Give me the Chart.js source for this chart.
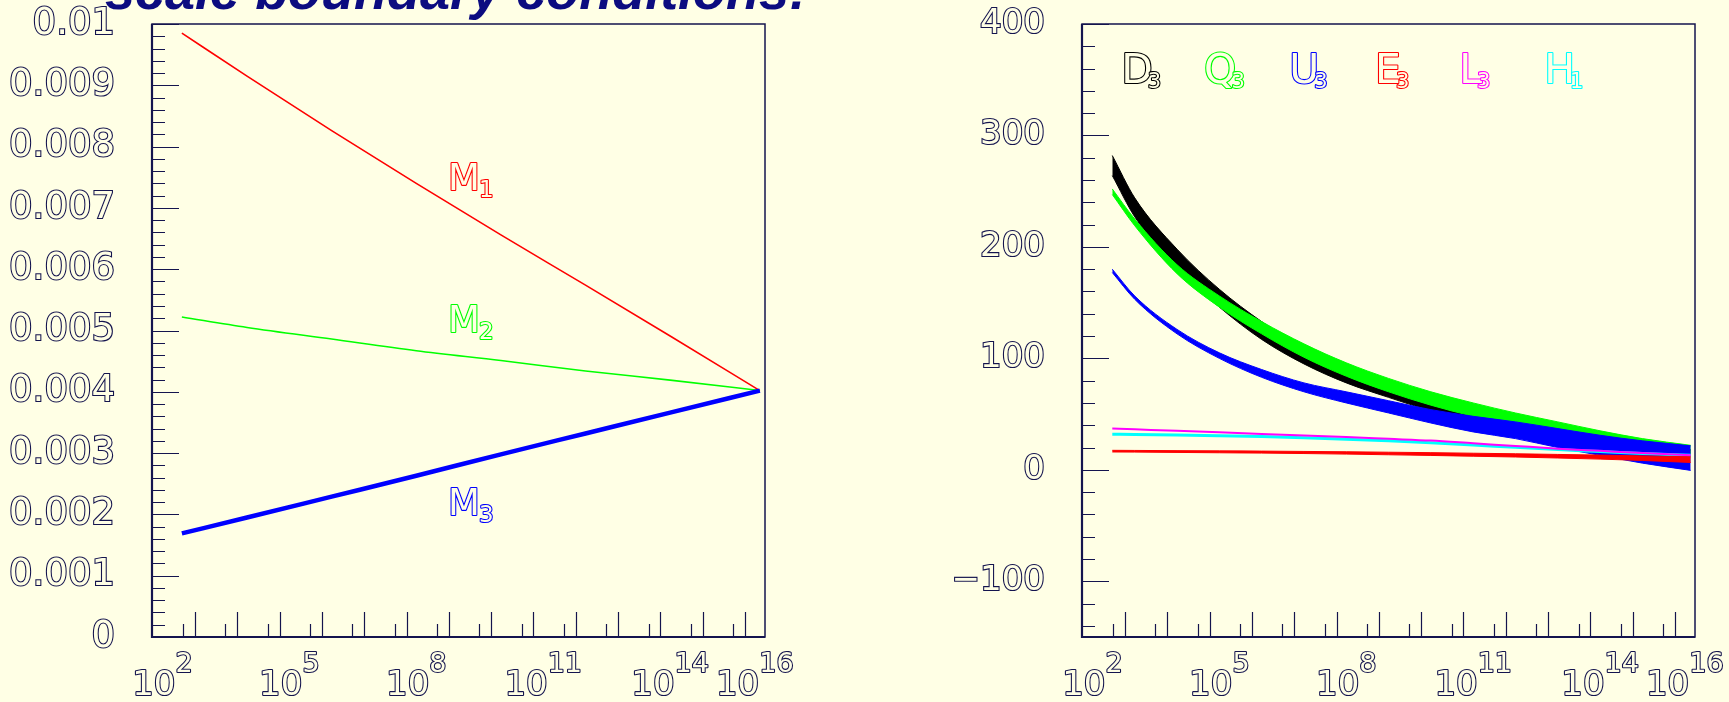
<!DOCTYPE html>
<html>
<head>
<meta charset="utf-8">
<script src="https://cdn.jsdelivr.net/npm/chart.js@4.4.0/dist/chart.umd.min.js"></script>
<style>
    html, body { margin: 0; padding: 0; background: #ffffe5; overflow: hidden; }
    .panel { position: absolute; top: 0; }
</style>
</head>
<body>
<div class="panel" style="left:0"><canvas id="leftChart" width="880" height="702"></canvas></div>
<div class="panel" style="left:880px"><canvas id="rightChart" width="849" height="702"></canvas></div>
<script>
// ---- data (x = log10 of the scale in GeV) ----
const xLeft = [2.46, 4, 6, 8, 10, 12, 14, 16.12];
const m1 = [0.00985, 0.00915, 0.00826, 0.00740, 0.00656, 0.00574, 0.00491, 0.00402];
const m2 = [0.00522, 0.00505, 0.00486, 0.00467, 0.00451, 0.00434, 0.00419, 0.00402];
const m3 = [0.00169, 0.00195, 0.00229, 0.00263, 0.00298, 0.00332, 0.00366, 0.00402];

const xRight = [2.47, 3, 4, 5, 6, 7, 8, 9, 10, 11, 12, 13, 14, 15, 16.14];
const d3Top = [282, 244, 198, 162, 133, 109, 91, 77, 64, 54, 45, 37, 30, 24, 18];
const d3Bot = [264, 227, 181, 146, 117, 95, 78, 65, 53, 44, 36, 29, 23, 18, 13];
const q3Top = [252, 225, 184, 156, 133, 113, 96, 82, 70, 60, 51, 43, 35, 28, 22];
const q3Bot = [247, 219, 176, 146, 122, 101, 84, 70, 58, 48, 40, 33, 26, 20, 15];
const u3Top = [180, 156, 126, 105, 90, 78, 70, 62, 54, 48, 43, 37, 31, 26, 21.5];
const u3Bot = [177, 153, 122, 100, 83, 70, 60, 51, 42, 34, 28, 20, 13, 6, -0.5];
const l3 = [37, 36.3, 35, 33.6, 32.2, 30.8, 29.4, 27.8, 26.2, 23.8, 21.4, 19, 17, 15, 13];
const h1 = [32, 31.8, 31.3, 30.6, 29.8, 28.8, 27.5, 26, 24.2, 22.2, 20.2, 18.2, 16.4, 14.6, 13];
const e3Top = [17.5, 17.4, 17.2, 17.0, 16.8, 16.5, 16.2, 15.8, 15.4, 14.9, 14.4, 13.8, 13.2, 12.5, 11.7];
const e3Bot = [16, 15.9, 15.6, 15.3, 15.0, 14.6, 14.1, 13.5, 12.9, 12.2, 11.5, 10.6, 9.6, 8.4, 6.6];

// ---- axes ----
const leftYTicks = [0, 0.001, 0.002, 0.003, 0.004, 0.005, 0.006, 0.007, 0.008, 0.009, 0.01];
const leftYLabels = ['0', '0.001', '0.002', '0.003', '0.004', '0.005', '0.006', '0.007', '0.008', '0.009', '0.01'];
const rightYTicks = [-100, 0, 100, 200, 300, 400];
const rightYLabels = ['\u2212100', '0', '100', '200', '300', '400'];
const xPowerPos = [2, 5, 8, 11, 14, 16];
const xPowerExp = ['2', '5', '8', '11', '14', '16'];

const mNames = ['M', 'M', 'M'];
const mSubs = ['1', '2', '3'];
const legendNames = ['D', 'Q', 'U', 'E', 'L', 'H'];
const legendSubs = ['3', '3', '3', '3', '3', '1'];

const BG = '#ffffe5';
const NAVY = '#14144e';
const FONT = '"DejaVu Sans", sans-serif';
const X_MIN = 1.754, X_MAX = 16.242;

function pts(xs, ys) {
    return xs.map((x, i) => ({ x: x, y: ys[i] }));
}

function drawHollow(ctx, text, x, y, font, color) {
    ctx.font = font;
    ctx.lineJoin = 'round';
    ctx.lineWidth = 2.2;
    ctx.strokeStyle = color;
    ctx.strokeText(text, x, y);
    ctx.fillStyle = BG;
    ctx.fillText(text, x, y);
}

// ROOT-like frame: ticks inside the box, 10^n labels under the x axis, text notes
function rootFrame(cfg) {
    return {
        id: 'rootFrame',
        afterDatasetsDraw(chart) {
            const { ctx, chartArea: a, scales: { x, y } } = chart;
            ctx.save();
            ctx.strokeStyle = NAVY;
            ctx.lineWidth = 1.2;
            ctx.beginPath();
            const majors = y.ticks.map(t => t.value);
            majors.forEach(v => {
                const py = Math.round(y.getPixelForValue(v)) + 0.5;
                ctx.moveTo(a.left, py); ctx.lineTo(a.left + 27, py);
            });
            for (let k = -60; k <= 60; k++) {
                const v = majors[0] + k * cfg.yMinor;
                if (v < y.min - 1e-9 || v > y.max + 1e-9) continue;
                if (majors.some(m => Math.abs(m - v) < cfg.yMinor / 10)) continue;
                const py = Math.round(y.getPixelForValue(v)) + 0.5;
                ctx.moveTo(a.left, py); ctx.lineTo(a.left + 13, py);
            }
            for (let k = 0; k < 14; k++) {
                const pl = Math.round(x.getPixelForValue(2.77 + k)) + 0.5;
                ctx.moveTo(pl, a.bottom); ctx.lineTo(pl, a.bottom - 25);
                const ps = Math.round(x.getPixelForValue(2.49 + k)) + 0.5;
                ctx.moveTo(ps, a.bottom); ctx.lineTo(ps, a.bottom - 13);
            }
            ctx.stroke();

            // frame
            ctx.lineWidth = 1.5;
            ctx.strokeRect(a.left, a.top, a.right - a.left, a.bottom - a.top);
            ctx.lineWidth = 2.2;
            ctx.beginPath();
            ctx.moveTo(a.left, a.top); ctx.lineTo(a.left, a.bottom); ctx.lineTo(a.right, a.bottom);
            ctx.stroke();

            // x labels 10^n
            const baseFont = '34px ' + FONT, expFont = '27px ' + FONT;
            xPowerPos.forEach((p, i) => {
                const px = x.getPixelForValue(p);
                ctx.font = baseFont;
                const wb = ctx.measureText('10').width;
                ctx.font = expFont;
                const we = ctx.measureText(xPowerExp[i]).width;
                const left = px - (wb + we) / 2;
                drawHollow(ctx, '10', left, a.bottom + 58, baseFont, NAVY);
                drawHollow(ctx, xPowerExp[i], left + wb, a.bottom + 35, expFont, NAVY);
            });

            // notes with subscripts
            cfg.notes.forEach(n => {
                const px = x.getPixelForValue(n.x);
                const py = y.getPixelForValue(n.y);
                const f = n.size + 'px ' + FONT, fs = n.subSize + 'px ' + FONT;
                ctx.font = f;
                const w = ctx.measureText(n.text).width;
                drawHollow(ctx, n.text, px, py, f, n.color);
                drawHollow(ctx, n.sub, px + w + n.gap, py + n.drop, fs, n.color);
            });

            if (cfg.title) {
                ctx.font = 'bold italic 54px "Liberation Sans", Arial, sans-serif';
                ctx.fillStyle = '#0c0c80';
                ctx.fillText(cfg.title, 105, 9);
            }
            ctx.restore();
        }
    };
}

function yAxis(min, max, ticks, labels, width, size) {
    return {
        type: 'linear', min: min, max: max,
        afterFit: s => {
            s.width = width;
            s.paddingTop = 0;
            s.paddingBottom = 0;
        },
        afterBuildTicks: s => { s.ticks = ticks.map(v => ({ value: v })); },
        grid: { display: false, drawTicks: false },
        border: { display: false },
        ticks: {
            autoSkip: false,
            padding: 37,
            color: BG,
            textStrokeColor: NAVY,
            textStrokeWidth: 2.2,
            font: { family: 'DejaVu Sans', size: size },
            callback: (v, i) => labels[i]
        }
    };
}

function line(data, color, width) {
    return { data: data, borderColor: color, borderWidth: width, pointRadius: 0, fill: false, cubicInterpolationMode: 'monotone' };
}

function band(top, bot, color) {
    return [
        { data: pts(xRight, top), borderColor: color, borderWidth: 1, pointRadius: 0, fill: false, cubicInterpolationMode: 'monotone' },
        { data: pts(xRight, bot), borderColor: color, backgroundColor: color, borderWidth: 1, pointRadius: 0, fill: '-1', cubicInterpolationMode: 'monotone' }
    ];
}

const common = {
    responsive: false,
    animation: false,
    events: [],
    plugins: { legend: { display: false }, tooltip: { enabled: false } }
};

const mColors = ['#ff0000', '#00ff00', '#0000ff'];
const mY = [0.00729, 0.00497, 0.00199];
new Chart(document.getElementById('leftChart'), {
    type: 'line',
    data: {
        datasets: [
            line(pts(xLeft, m3), '#0000ff', 4.5),
            line(pts(xLeft, m2), '#00ff00', 1.6),
            line(pts(xLeft, m1), '#ff0000', 1.6)
        ]
    },
    options: Object.assign({}, common, {
        layout: { padding: { left: 0, top: 24, right: 115, bottom: 65 } },
        scales: {
            x: { type: 'linear', display: false, min: X_MIN, max: X_MAX },
            y: yAxis(0, 0.01, leftYTicks, leftYLabels, 152, 37)
        }
    }),
    plugins: [rootFrame({
        yMinor: 0.0002,
        title: 'scale boundary conditions:',
        notes: mNames.map((t, i) => ({ text: t, sub: mSubs[i], x: 8.75, y: mY[i], color: mColors[i], size: 37, subSize: 23, drop: 7, gap: -1 }))
    })]
});

const legendColors = ['#000000', '#00ff00', '#0000ff', '#ff0000', '#ff00ff', '#00ffff'];
const legendX = [2.68, 4.64, 6.65, 8.68, 10.67, 12.68];
new Chart(document.getElementById('rightChart'), {
    type: 'line',
    data: {
        datasets: [
            ...band(e3Top, e3Bot, '#ff0000'),
            line(pts(xRight, l3), '#ff00ff', 2),
            line(pts(xRight, h1), '#00ffff', 3),
            ...band(u3Top, u3Bot, '#0000ff'),
            ...band(q3Top, q3Bot, '#00ff00'),
            ...band(d3Top, d3Bot, '#000000')
        ]
    },
    options: Object.assign({}, common, {
        layout: { padding: { left: 0, top: 24, right: 34, bottom: 65 } },
        scales: {
            x: { type: 'linear', display: false, min: X_MIN, max: X_MAX },
            y: yAxis(-150, 400, rightYTicks, rightYLabels, 202, 34)
        }
    }),
    plugins: [rootFrame({
        yMinor: 20,
        notes: legendNames.map((t, i) => ({ text: t, sub: legendSubs[i], x: legendX[i], y: 347, color: legendColors[i], size: 41, subSize: 21, drop: 5, gap: -5 }))
    })]
});
</script>
</body>
</html>
